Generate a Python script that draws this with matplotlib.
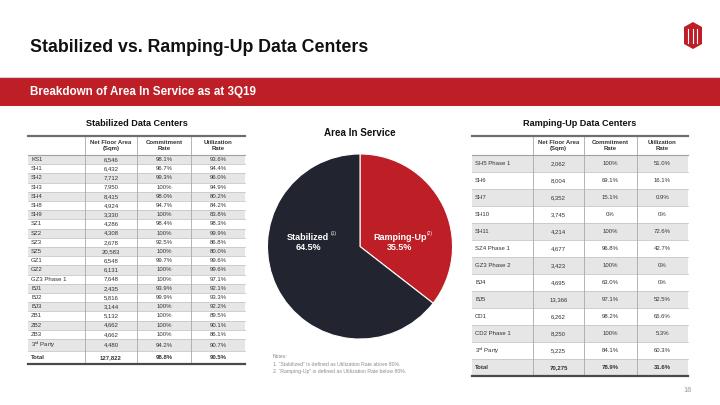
import numpy as np
import matplotlib
matplotlib.use('Agg')
import matplotlib.pyplot as plt
from matplotlib.patches import Rectangle, Polygon

plt.rcParams['font.family'] = ['Liberation Sans', 'DejaVu Sans']
plt.rcParams['mathtext.fontset'] = 'custom'
plt.rcParams['mathtext.rm'] = 'Liberation Sans'

# stabilized data centers
stab_names = ['KS1', 'SH1', 'SH2', 'SH3', 'SH4', 'SH8', 'SH9', 'SZ1', 'SZ2', 'SZ3', 'SZ5',
              'GZ1', 'GZ2', 'GZ3 Phase 1', 'BJ1', 'BJ2', 'BJ3', 'ZB1', 'ZB2', 'ZB3',
              '3$^{\\mathrm{rd}}$ Party']
stab_area = [6546, 6432, 7712, 7950, 8415, 4924, 3330, 4286, 4308, 2678, 20583,
             6548, 6131, 7648, 2435, 5816, 3144, 5132, 4662, 4662, 4480]
stab_commit = [98.1, 96.7, 99.3, 100, 98.0, 94.7, 100, 98.4, 100, 92.5, 100,
               99.7, 100, 100, 93.9, 99.9, 100, 100, 100, 100, 94.2]
stab_util = [93.6, 94.4, 96.0, 94.9, 80.2, 84.2, 83.8, 98.3, 99.9, 86.8, 80.0,
             99.6, 99.6, 97.1, 92.1, 93.3, 92.2, 89.5, 90.1, 86.1, 90.7]
stab_total = [127822, 98.8, 90.5]

# ramping-up data centers
ramp_names = ['SH5 Phase 1', 'SH6', 'SH7', 'SH10', 'SH11', 'SZ4 Phase 1', 'GZ3 Phase 2',
              'BJ4', 'BJ5', 'CD1', 'CD2 Phase 1', '3$^{\\mathrm{rd}}$ Party']
ramp_area = [2062, 8004, 6352, 3745, 4214, 4677, 3423, 4695, 13366, 6262, 8250, 5225]
ramp_commit = [100, 69.1, 15.1, 0, 100, 96.8, 100, 63.0, 97.1, 98.2, 100, 84.1]
ramp_util = [51.0, 16.1, 0.9, 0, 72.6, 42.7, 0, 0, 52.5, 65.6, 5.3, 60.3]
ramp_total = [70275, 78.9, 31.6]

pie_labels = ['Ramping-Up', 'Stabilized']
pie_notes = ['(2)', '(1)']
pie_share = [35.5, 64.5]

headers = [('Net Floor Area', '(Sqm)'), ('Commitment', 'Rate'), ('Utilization', 'Rate')]

RED = '#BE1E26'
DARK = '#22242F'
SHADE = '#E6E6E6'
TXT = '#333333'


def pct(v):
    if v == 0 or v == 100:
        return '%d%%' % v
    return '%.1f%%' % v


def draw_table(ax, xe, top, head_h, heights, names, area, commit, util, total, title):
    ax.text((xe[0] + xe[-1]) / 2, top - 13, title, ha='center', va='center',
            fontsize=6.6, fontweight='bold', color='#111111')
    y = top + head_h
    rows = [(n, '{:,}'.format(a), pct(c), pct(u), False)
            for n, a, c, u in zip(names, area, commit, util)]
    rows.append(('Total', '{:,}'.format(total[0]), pct(total[1]), pct(total[2]), True))
    for i, (r, h) in enumerate(zip(rows, heights)):
        if i % 2 == 0:
            ax.add_patch(Rectangle((xe[0], y), xe[-1] - xe[0], h, color=SHADE, lw=0))
        ax.plot([xe[0], xe[-1]], [y, y], color='#C8C8C8', lw=0.6)
        fw = 'bold' if r[4] else 'normal'
        ax.text(xe[0] + 3, y + h / 2, r[0], ha='left', va='center', fontsize=4.3,
                color=TXT, fontweight=fw)
        for j in range(3):
            ax.text((xe[j + 1] + xe[j + 2]) / 2, y + h / 2, r[j + 1], ha='center',
                    va='center', fontsize=4.3, color=TXT, fontweight=fw)
        y += h
    for j, (h1, h2) in enumerate(headers):
        cx = (xe[j + 1] + xe[j + 2]) / 2
        ax.text(cx, top + head_h * 0.33, h1, ha='center', va='center', fontsize=4.3,
                fontweight='bold', color=TXT)
        ax.text(cx, top + head_h * 0.66, h2, ha='center', va='center', fontsize=4.3,
                fontweight='bold', color=TXT)
    for x in xe[1:-1]:
        ax.plot([x, x], [top, y], color='#A8A8A8', lw=0.6)
    ax.plot([xe[0], xe[-1]], [top + head_h, top + head_h], color='#A0A0A0', lw=0.8)
    ax.plot([xe[0], xe[-1]], [top, top], color='#6E6E6E', lw=1.6)
    ax.plot([xe[0], xe[-1]], [y, y], color='#4A4A4A', lw=1.6)


fig = plt.figure(figsize=(7.2, 4.05), dpi=100)

# pie first, underneath the overlay axes
pax = fig.add_axes([(360 - 93) / 720, (405 - 246.5 - 93) / 405, 186 / 720, 186 / 405])
pax.pie(pie_share, colors=[RED, DARK], startangle=90, counterclock=False,
        wedgeprops=dict(edgecolor='white', linewidth=0.8))
pax.set_xlim(-1.005, 1.005)
pax.set_ylim(-1.005, 1.005)
pax.set_aspect('equal')
pax.set_zorder(0)

ax = fig.add_axes([0, 0, 1, 1])
ax.set_xlim(0, 720)
ax.set_ylim(405, 0)
ax.axis('off')
ax.set_zorder(2)

# title and band
ax.text(30, 48, 'Stabilized vs. Ramping-Up Data Centers', ha='left', va='center',
        fontsize=12.8, fontweight='bold', color='#111111')
ax.plot([0, 720], [76.5, 76.5], color='#D0D0D0', lw=0.8)
ax.add_patch(Rectangle((0, 77), 720, 29, color=RED, lw=0))
ax.text(30, 92, 'Breakdown of Area In Service as at 3Q19', ha='left', va='center',
        fontsize=8.4, fontweight='bold', color='white')

# logo
hexpts = [(693, 22), (702, 27), (702, 44), (693, 49), (684, 44), (684, 27)]
ax.add_patch(Polygon(hexpts, closed=True, color=RED, lw=0))
for x in [688, 692.5, 697]:
    ax.plot([x, x], [29, 43], color='white', lw=0.8)

# tables
stab_h = [9.2] * 20 + [12.5] * 2 + [12.5]
draw_table(ax, [28, 85, 137, 191, 245], 136, 19, stab_h, stab_names, stab_area,
           stab_commit, stab_util, stab_total, 'Stabilized Data Centers')
ramp_h = [17] * 13
draw_table(ax, [472, 533, 584, 637, 688], 136, 19, ramp_h, ramp_names, ramp_area,
           ramp_commit, ramp_util, ramp_total, 'Ramping-Up Data Centers')

# pie labels
ax.text(360, 133, 'Area In Service', ha='center', va='center', fontsize=7.1,
        fontweight='bold', color='#111111')
ax.text(400, 237, pie_labels[0], ha='center', va='center', fontsize=6.5,
        fontweight='bold', color='white')
ax.text(427, 233, pie_notes[0], ha='left', va='center', fontsize=3.5, color='white')
ax.text(400, 248, '%.1f%%' % pie_share[0], ha='center', va='center', fontsize=6.5,
        fontweight='bold', color='white')
ax.text(308, 237, pie_labels[1], ha='center', va='center', fontsize=6.5,
        fontweight='bold', color='white')
ax.text(331, 233, pie_notes[1], ha='left', va='center', fontsize=3.5, color='white')
ax.text(308, 248, '%.1f%%' % pie_share[1], ha='center', va='center', fontsize=6.5,
        fontweight='bold', color='white')

# notes
notes = ['Notes:',
         '1. \u201cStabilized\u201d is defined as Utilization Rate above 80%.',
         '2. \u201cRamping-Up\u201d is defined as Utilization Rate below 80%.']
for i, n in enumerate(notes):
    ax.text(273, 357 + i * 7.5, n, ha='left', va='center', fontsize=3.7, color='#8A8A8A')

ax.text(688, 390, '16', ha='center', va='center', fontsize=5.5, color='#9A9A9A')

plt.savefig('out.png', dpi=100)
